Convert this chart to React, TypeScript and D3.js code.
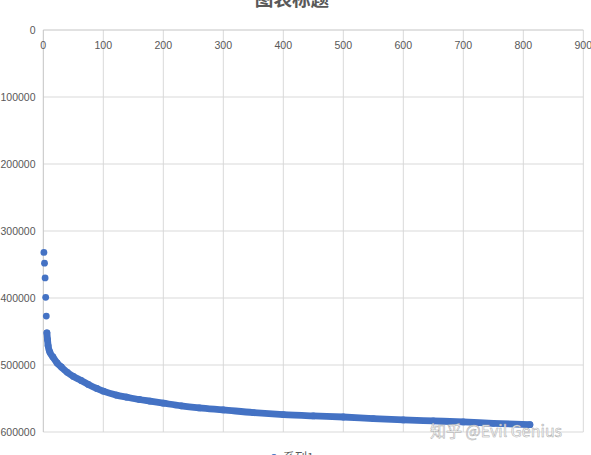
import * as d3 from "d3";
import { useEffect, useRef } from "react";

// series 1 (values are negative, axis shows them top-down)
const xValues = [1, 2, 3, 4, 5, 6, 7, 8, 11, 16, 23, 30, 40, 50, 63, 75, 89, 100, 122, 139, 160, 178, 200, 230, 260, 300, 350, 400, 450, 500, 550, 600, 650, 700, 750, 811];
const yValues = [-332000, -348000, -370000, -399000, -427000, -452000, -462000, -471000, -481000, -488000, -497000, -503000, -511000, -517000, -523000, -529000, -535000, -539000, -545000, -548000, -551500, -554000, -557000, -561000, -564000, -567000, -571000, -574000, -576000, -577600, -580000, -582000, -583500, -585000, -587000, -589000];
const bandStart = 5; // from here on the markers overlap into one band

const xTicks = [0, 100, 200, 300, 400, 500, 600, 700, 800, 900];
const yTicks = [0, -100000, -200000, -300000, -400000, -500000, -600000];

const chartTitle = "图表标题";
const seriesName = "系列1";
const watermark = "知乎 @Evil Genius";

export default function App(): JSX.Element {
  const svgRef = useRef<SVGSVGElement>(null);

  useEffect(() => {
    if (!svgRef.current) return;
    const width = 591;
    const height = 455;
    const margin = { top: 30, right: 7.7, bottom: 23, left: 43.3 };

    const svg = d3.select(svgRef.current);
    svg.selectAll("*").remove();
    svg.attr("width", width).attr("height", height);

    const xScale = d3.scaleLinear().domain([0, 900]).range([margin.left, width - margin.right]);
    const yScale = d3.scaleLinear().domain([-600000, 0]).range([height - margin.bottom, margin.top]);

    const numFont = "'Liberation Sans', Arial, sans-serif";

    // grid
    svg
      .append("g")
      .selectAll("line")
      .data(yTicks.filter((d) => d !== 0))
      .join("line")
      .attr("x1", margin.left)
      .attr("x2", width - margin.right)
      .attr("y1", (d) => yScale(d))
      .attr("y2", (d) => yScale(d))
      .attr("stroke", "#d9d9d9");

    svg
      .append("g")
      .selectAll("line")
      .data(xTicks.filter((d) => d !== 0))
      .join("line")
      .attr("x1", (d) => xScale(d))
      .attr("x2", (d) => xScale(d))
      .attr("y1", margin.top)
      .attr("y2", height - margin.bottom)
      .attr("stroke", "#d9d9d9");

    // axis lines
    svg
      .append("line")
      .attr("x1", margin.left)
      .attr("x2", width - margin.right)
      .attr("y1", yScale(0))
      .attr("y2", yScale(0))
      .attr("stroke", "#c4c4c4");
    svg
      .append("line")
      .attr("x1", xScale(0))
      .attr("x2", xScale(0))
      .attr("y1", margin.top)
      .attr("y2", height - margin.bottom)
      .attr("stroke", "#c4c4c4");

    // tick labels
    svg
      .append("g")
      .selectAll("text")
      .data(xTicks)
      .join("text")
      .attr("x", (d) => xScale(d))
      .attr("y", 49)
      .attr("text-anchor", "middle")
      .style("font-family", numFont)
      .style("font-size", "10.6px")
      .style("fill", "#595959")
      .text((d) => String(d));

    // the minus sign falls off the left edge in the original, so only the digits show
    svg
      .append("g")
      .selectAll("text")
      .data(yTicks)
      .join("text")
      .attr("x", 35.5)
      .attr("y", (d) => yScale(d) + 3.8)
      .attr("text-anchor", "end")
      .style("font-family", numFont)
      .style("font-size", "10.5px")
      .style("fill", "#595959")
      .text((d) => String(Math.abs(d)));

    const points = xValues.map((x, i) => ({ x, y: yValues[i] }));
    const color = "#4472c4";
    const r = 3.4;

    const lineGen = d3
      .line<{ x: number; y: number }>()
      .x((d) => xScale(d.x))
      .y((d) => yScale(d.y))
      .curve(d3.curveMonotoneX);

    svg
      .append("path")
      .datum(points.slice(bandStart))
      .attr("d", lineGen)
      .attr("fill", "none")
      .attr("stroke", color)
      .attr("stroke-width", r * 2)
      .attr("stroke-linecap", "round")
      .attr("stroke-linejoin", "round");

    svg
      .append("g")
      .selectAll("circle")
      .data(points)
      .join("circle")
      .attr("cx", (d) => xScale(d.x))
      .attr("cy", (d) => yScale(d.y))
      .attr("r", r)
      .attr("fill", color);

    // title (cut off at top, as in the original)
    svg
      .append("text")
      .attr("x", 292)
      .attr("y", 6)
      .attr("text-anchor", "middle")
      .style("font-family", "'Noto Sans CJK SC', sans-serif")
      .style("font-size", "18.6px")
      .style("font-weight", "bold")
      .style("fill", "#595959")
      .text(chartTitle);

    // legend (cut off at bottom)
    svg
      .append("circle")
      .attr("cx", 274)
      .attr("cy", 457)
      .attr("r", 3)
      .attr("fill", color);
    svg
      .append("text")
      .attr("x", 283)
      .attr("y", 462)
      .style("font-family", "'Noto Sans CJK SC', sans-serif")
      .style("font-size", "12px")
      .style("fill", "#595959")
      .text(seriesName);

    // watermark
    svg
      .append("text")
      .attr("x", 430)
      .attr("y", 437)
      .style("font-family", "'Noto Sans CJK SC', sans-serif")
      .style("font-size", "16px")
      .style("fill", "rgba(255,255,255,0.9)")
      .style("stroke", "#a8a8a8")
      .style("stroke-width", "0.5px")
      .text(watermark);
  }, []);

  return (
    <div style={{ position: "absolute", left: 0, top: 0, width: 591, height: 455, overflow: "hidden", background: "#fff" }}>
      <svg ref={svgRef} style={{ display: "block" }} />
    </div>
  );
}
